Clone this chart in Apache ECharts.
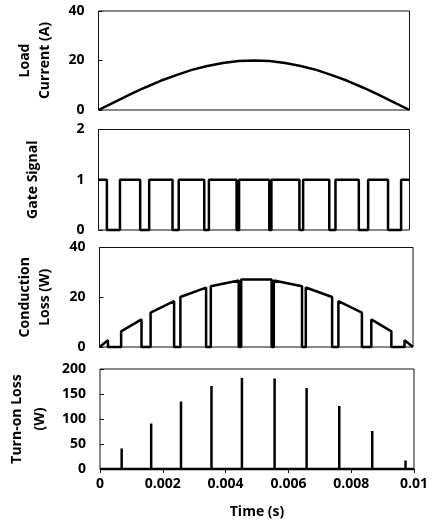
<!DOCTYPE html>
<html>
<head>
<meta charset="utf-8">
<script src="https://cdn.jsdelivr.net/npm/echarts@6/dist/echarts.min.js"></script>
<style>
  html, body { margin: 0; padding: 0; background: #fff; }
  #chart { width: 432px; height: 520px; }
</style>
</head>
<body>
<div id="chart"></div>
<script>
// load current (sine half-wave)
const loadTime = [0, 0.0005, 0.001, 0.0015, 0.002, 0.0025, 0.003, 0.0035, 0.004, 0.0045, 0.005,
  0.0055, 0.006, 0.0065, 0.007, 0.0075, 0.008, 0.0085, 0.009, 0.0095, 0.01];
const loadCurrent = [0, 3.1, 6.2, 9.1, 11.8, 14.1, 16.2, 17.8, 19.0, 19.8, 20.0,
  19.8, 19.0, 17.8, 16.2, 14.1, 11.8, 9.1, 6.2, 3.1, 0];

// gate switching instants (s)
const offTimes = [0.00027, 0.00134, 0.00238, 0.0034, 0.00444, 0.00549, 0.00646, 0.00742, 0.00837, 0.00931];
const onTimes = [0.00069, 0.00163, 0.00258, 0.00355, 0.00452, 0.00556, 0.00658, 0.00762, 0.00867, 0.00973];

// conduction loss at start / end of each on-interval (W)
const convStart = [0, 6.3, 13.8, 20.1, 24.4, 27.1, 26.7, 23.9, 18.4, 11.1, 2.7];
const convEnd = [2.7, 11.1, 18.4, 23.9, 26.7, 27.1, 24.4, 20.1, 13.8, 6.3, 0];

// turn-on loss spikes (W)
const onLoss = [41, 91, 135, 166, 182, 181, 162, 126, 76, 17];

const FONT = 'Open Sans';
const tEnd = 0.01;

const gateData = [[0, 1]];
offTimes.forEach((t, k) => {
  gateData.push([t, 1], [t, 0], [onTimes[k], 0], [onTimes[k], 1]);
});
gateData.push([tEnd, 1]);

const starts = [0].concat(onTimes);
const ends = offTimes.concat([tEnd]);
const convData = [];
starts.forEach((t, k) => {
  convData.push([t, 0], [t, convStart[k]], [ends[k], convEnd[k]], [ends[k], 0]);
});

const turnOnData = [[0, 0]];
onTimes.forEach((t, k) => {
  turnOnData.push([t, 0], [t, onLoss[k]], [t, 0]);
});
turnOnData.push([tEnd, 0]);

const grids = [
  { left: 98.5, top: 11, width: 311, height: 99 },
  { left: 98.5, top: 129.5, width: 311, height: 100.5 },
  { left: 99.5, top: 247.5, width: 313.5, height: 99.5 },
  { left: 100, top: 369, width: 314, height: 100 }
].map(g => ({ ...g, show: true, borderColor: '#111', borderWidth: 1, outerBoundsMode: 'none' }));

const labelStyle = { color: '#000', fontFamily: FONT, fontWeight: 'bold', fontSize: 14 };
const nameStyle = { color: '#000', fontFamily: FONT, fontWeight: 'bold', fontSize: 14, lineHeight: 20 };

const yAxisDefs = [
  { max: 40, interval: 20, name: 'Load\nCurrent (A)', gap: 43 },
  { max: 2, interval: 1, name: 'Gate Signal', gap: 55 },
  { max: 40, interval: 20, name: 'Conduction\nLoss (W)', gap: 44 },
  { max: 200, interval: 50, name: 'Turn-on Loss\n(W)', gap: 37, lh: 23 }
];

const xAxis = grids.map((g, i) => ({
  type: 'value',
  gridIndex: i,
  min: 0,
  max: tEnd,
  interval: 0.002,
  splitLine: { show: false },
  axisLine: { show: i === 3, lineStyle: { color: '#111', width: 1 } },
  axisTick: { show: i === 3, length: 4, inside: false, lineStyle: { color: '#111' } },
  axisLabel: { show: i === 3, margin: 8, ...labelStyle },
  name: i === 3 ? 'Time (s)' : '',
  nameLocation: 'middle',
  nameGap: 33,
  nameTextStyle: nameStyle
}));

const yAxis = yAxisDefs.map((d, i) => ({
  type: 'value',
  gridIndex: i,
  min: 0,
  max: d.max,
  interval: d.interval,
  splitLine: { show: false },
  axisLine: { show: false },
  axisTick: { show: true, inside: true, length: 4, lineStyle: { color: '#111' } },
  axisLabel: { margin: 14, ...labelStyle },
  name: d.name,
  nameLocation: 'middle',
  nameRotate: 90,
  nameGap: d.gap,
  nameTextStyle: { ...nameStyle, lineHeight: d.lh || 20 }
}));

const lineSeries = (i, data) => ({
  type: 'line',
  xAxisIndex: i,
  yAxisIndex: i,
  data: data,
  showSymbol: false,
  lineStyle: { color: '#000', width: 2.5 },
  clip: false
});

const chart = echarts.init(document.getElementById('chart'));
chart.setOption({
  animation: false,
  backgroundColor: '#fff',
  grid: grids,
  xAxis: xAxis,
  yAxis: yAxis,
  series: [
    lineSeries(0, loadTime.map((t, k) => [t, loadCurrent[k]])),
    lineSeries(1, gateData),
    lineSeries(2, convData),
    lineSeries(3, turnOnData)
  ]
});
</script>
</body>
</html>
